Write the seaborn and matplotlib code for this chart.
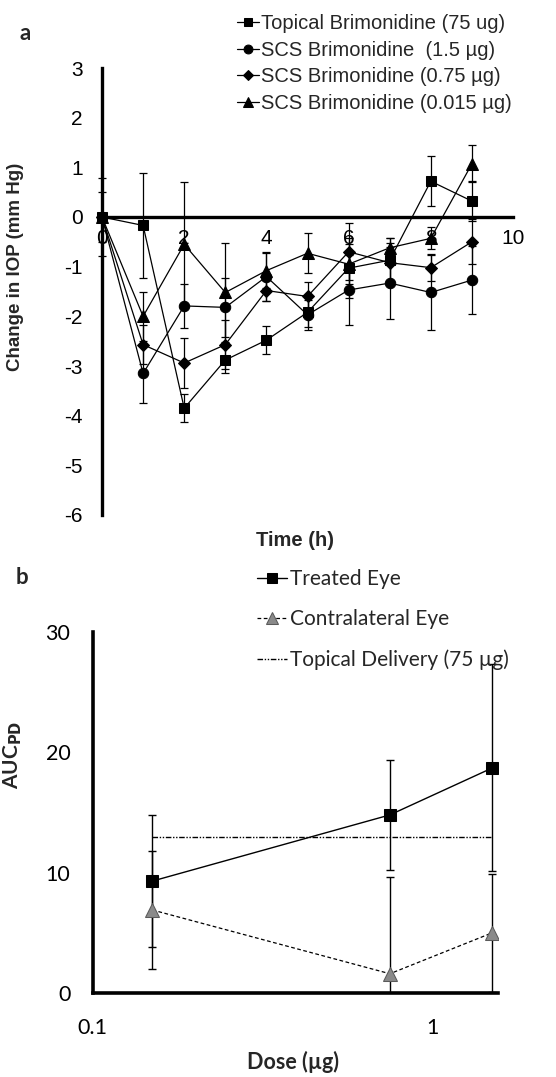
import matplotlib
matplotlib.use("Agg")
import matplotlib.pyplot as plt
import seaborn as sns
import pandas as pd
import numpy as np
from matplotlib.ticker import FixedLocator, NullLocator

# ---------------- data: panel a ----------------
times = [0, 1, 2, 3, 4, 5, 6, 7, 8, 9]
series_a = ["Topical Brimonidine (75 ug)", "SCS Brimonidine  (1.5 µg)",
            "SCS Brimonidine (0.75 µg)", "SCS Brimonidine (0.015 µg)"]
topical_iop = [0.0, -0.17, -3.85, -2.88, -2.48, -1.92, -1.03, -0.87, 0.72, 0.32]
topical_err = [0.78, 1.05, 0.28, 0.27, 0.28, 0.30, 0.60, 0.45, 0.50, 0.40]
scs15_iop = [0.0, -3.15, -1.79, -1.82, -1.20, -1.97, -1.47, -1.33, -1.52, -1.27]
scs15_err = [0.50, 0.60, 0.45, 0.60, 0.50, 0.30, 0.70, 0.73, 0.75, 0.68]
scs075_iop = [0.0, -2.57, -2.94, -2.57, -1.48, -1.60, -0.70, -0.92, -1.02, -0.50]
scs075_err = [0.0, 0.39, 0.50, 0.50, 0.22, 0.30, 0.57, 0.40, 0.27, 0.45]
scs0015_iop = [0.0, -2.00, -0.55, -1.52, -1.08, -0.73, -0.95, -0.62, -0.43, 1.07]
scs0015_err = [0.0, 0.50, 1.25, 1.00, 0.35, 0.40, 0.40, 0.20, 0.22, 0.37]
yticks_a = [-6, -5, -4, -3, -2, -1, 0, 1, 2, 3]
xticks_a = [0, 2, 4, 6, 8, 10]

# ---------------- data: panel b ----------------
doses = [0.15, 0.75, 1.5]
treated_auc = [9.3, 14.8, 18.7]
treated_err = [5.5, 4.6, 8.6]
contra_auc = [6.9, 1.6, 5.0]
contra_err = [4.9, 8.0, 4.9]
topical_auc = 13.0
topical_x = [0.15, 1.5]
series_b = ["Treated Eye", "Contralateral Eye", "Topical Delivery (75 µg)"]
yticks_b = [0, 10, 20, 30]

sns.set_theme(style="white")
plt.rcParams["font.family"] = ["Liberation Sans", "DejaVu Sans"]
plt.rcParams["axes.unicode_minus"] = False

W, H = 556, 1077
fig = plt.figure(figsize=(W / 100, H / 100), dpi=100)

# ================= panel a =================
axa = fig.add_axes([102 / W, 1 - 515 / H, (513 - 102) / W, (515 - 68) / H])
vals_a = [topical_iop, scs15_iop, scs075_iop, scs0015_iop]
errs_a = [topical_err, scs15_err, scs075_err, scs0015_err]
markers_a = ["s", "o", "D", "^"]
msizes_a = [7.5, 7.5, 6, 8]
for name, v, e, m, ms in zip(series_a, vals_a, errs_a, markers_a, msizes_a):
    axa.errorbar(times, v, yerr=e, fmt="none", ecolor="black", elinewidth=0.9,
                 capsize=3, capthick=0.9, zorder=2, clip_on=False)
    df = pd.DataFrame({"t": times, "v": v})
    sns.lineplot(data=df, x="t", y="v", ax=axa, color="black", lw=0.9,
                 marker=m, markersize=ms, markeredgecolor="black",
                 markerfacecolor="black", label=name, errorbar=None,
                 zorder=3, clip_on=False)

axa.set_xlim(0, 10)
axa.set_ylim(-6, 3)
for s in ["top", "right"]:
    axa.spines[s].set_visible(False)
axa.spines["bottom"].set_position(("data", 0))
axa.spines["left"].set_linewidth(2.4)
axa.spines["bottom"].set_linewidth(2.4)
axa.spines["left"].set_color("black")
axa.spines["bottom"].set_color("black")
axa.set_xticks(xticks_a)
axa.set_xticklabels([str(t) for t in xticks_a])
axa.set_yticks(yticks_a)
axa.set_yticklabels([str(t) for t in yticks_a])
axa.tick_params(axis="both", direction="out", length=4, width=2.2,
                colors="black", labelsize=15)
axa.tick_params(axis="y", pad=10)
axa.tick_params(axis="x", pad=5)
for lbl in axa.get_xticklabels():
    lbl.set_zorder(1)
axa.set_xlabel("")
axa.set_ylabel("Change in IOP (mm Hg)", fontsize=13.5, fontweight="bold")
axa.yaxis.set_label_coords(-0.19, 0.555)
fig.text(295 / W, 1 - 540 / H, "Time (h)", ha="center", va="center",
         fontsize=14.5, fontweight="bold")
fig.text(25 / W, 1 - 33 / H, "a", ha="center", va="center", fontsize=16,
         fontweight="bold", family=["Lato", "DejaVu Sans"])
h, l = axa.get_legend_handles_labels()
axa.legend(h, l, loc="upper left", bbox_to_anchor=(237 / W, 1 - 14 / H),
           bbox_transform=fig.transFigure, frameon=False, fontsize=14.5,
           handlelength=1.1, handletextpad=0.1, labelspacing=0.38,
           borderpad=0, borderaxespad=0, markerscale=0.85)

# ================= panel b =================
axb = fig.add_axes([92.5 / W, 1 - 993 / H, (498 - 92.5) / W, (993 - 632) / H])
axb.set_xscale("log")
axb.errorbar(doses, treated_auc, yerr=treated_err, fmt="none", ecolor="black",
             elinewidth=1.0, capsize=3, capthick=1.0, zorder=2)
axb.errorbar(doses, contra_auc, yerr=contra_err, fmt="none", ecolor="black",
             elinewidth=1.0, capsize=3, capthick=1.0, zorder=2)
dfb1 = pd.DataFrame({"d": doses, "v": treated_auc})
sns.lineplot(data=dfb1, x="d", y="v", ax=axb, color="black", lw=1.0,
             marker="s", markersize=9, markerfacecolor="black",
             markeredgecolor="black", label=series_b[0], errorbar=None, zorder=3)
dfb2 = pd.DataFrame({"d": doses, "v": contra_auc})
sns.lineplot(data=dfb2, x="d", y="v", ax=axb, color="black", lw=0.9,
             linestyle=(0, (3, 2)), marker="^", markersize=10,
             markerfacecolor="#8a8a8a", markeredgecolor="#5a5a5a",
             label=series_b[1], errorbar=None, zorder=3)
dfb3 = pd.DataFrame({"d": topical_x, "v": [topical_auc] * len(topical_x)})
sns.lineplot(data=dfb3, x="d", y="v", ax=axb, color="black", lw=1.0,
             linestyle=(0, (4, 1.2, 1, 1.2, 1, 1.2)), label=series_b[2],
             errorbar=None, zorder=3)

axb.set_xlim(0.1, 1.56)
axb.set_ylim(0, 30)
for s in ["top", "right"]:
    axb.spines[s].set_visible(False)
axb.spines["left"].set_linewidth(2.6)
axb.spines["bottom"].set_linewidth(2.6)
axb.spines["left"].set_color("black")
axb.spines["bottom"].set_color("black")
axb.xaxis.set_major_locator(FixedLocator([0.1, 1]))
axb.xaxis.set_minor_locator(NullLocator())
axb.set_xticklabels(["0.1", "1"])
axb.set_yticks(yticks_b)
axb.set_yticklabels([str(t) for t in yticks_b])
axb.tick_params(axis="both", direction="out", length=6, width=2.4,
                colors="black", labelsize=15.5)
axb.tick_params(axis="y", pad=10)
axb.tick_params(axis="x", pad=12)
for lbl in axb.get_xticklabels() + axb.get_yticklabels():
    lbl.set_family(["Lato", "DejaVu Sans"])
axb.set_xlabel("")
axb.set_ylabel(r"AUC$_{\mathbf{PD}}$", fontsize=15, fontweight="bold",
               family=["Lato", "DejaVu Sans"])
axb.yaxis.set_label_coords(-0.17, 0.66)
fig.text(293 / W, 1 - 1062 / H, "Dose (µg)", ha="center", va="center",
         fontsize=15.5, fontweight="bold", family=["Lato", "DejaVu Sans"])
fig.text(22 / W, 1 - 577 / H, "b", ha="center", va="center", fontsize=16,
         fontweight="bold", family=["Lato", "DejaVu Sans"])
hb, lb = axb.get_legend_handles_labels()
axb.legend(hb, lb, loc="upper left", bbox_to_anchor=(257 / W, 1 - 569 / H),
           bbox_transform=fig.transFigure, frameon=False,
           prop={"family": ["Lato", "DejaVu Sans"], "size": 15},
           handlelength=1.45, handletextpad=0.15, labelspacing=0.97,
           borderpad=0, borderaxespad=0, markerscale=0.8)

fig.savefig("out.png", dpi=100)
